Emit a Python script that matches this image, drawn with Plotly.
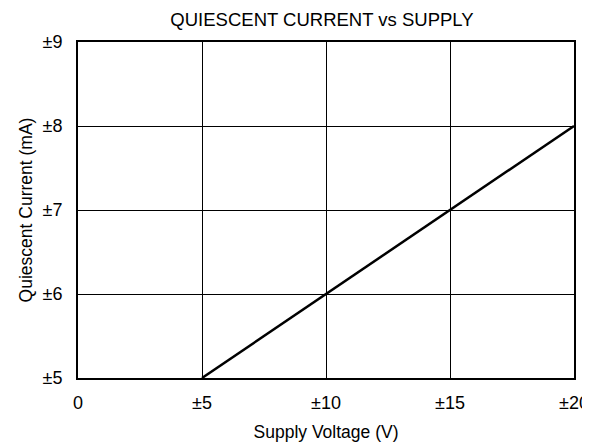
import plotly.graph_objects as go

supply_v = [5, 20]
quiescent_ma = [5, 8]
x_ticks = [0, 5, 10, 15, 20]
x_labels = ["0", "±5", "±10", "±15", "±20"]
y_ticks = [5, 6, 7, 8, 9]
y_labels = ["±5", "±6", "±7", "±8", "±9"]

fam = "Liberation Sans, Arial, sans-serif"
fig = go.Figure()
fig.add_trace(go.Scatter(x=supply_v, y=quiescent_ma, mode="lines",
                         line=dict(color="black", width=2.5), showlegend=False))

# page body adds an 8px offset; margins compensate for it
fig.update_layout(
    width=590, height=446,
    margin=dict(l=70, r=24, t=34, b=76),
    paper_bgcolor="white", plot_bgcolor="white",
    font=dict(family=fam, size=17, color="black"),
    title=dict(text="QUIESCENT CURRENT vs SUPPLY", x=314/590, xref="container",
               xanchor="center", y=1 - 12/446, yanchor="middle",
               font=dict(family=fam, size=18.5, color="black")),
    xaxis=dict(range=[0, 20], tickvals=x_ticks, ticktext=x_labels,
               tickfont=dict(family=fam, size=18, color="black"),
               showgrid=True, gridcolor="black", gridwidth=1,
               showline=True, linecolor="black", linewidth=2, mirror=True,
               zeroline=False, ticks="", automargin=False,
               title=dict(text="Supply Voltage (V)", standoff=14,
                          font=dict(family=fam, size=17.5, color="black"))),
    yaxis=dict(range=[5, 9], tickvals=y_ticks, ticktext=y_labels,
               tickfont=dict(family=fam, size=18, color="black"),
               showgrid=True, gridcolor="black", gridwidth=1,
               showline=True, linecolor="black", linewidth=2, mirror=True,
               zeroline=False, ticks="", automargin=False,
               title=dict(text="Quiescent Current (mA)", standoff=5,
                          font=dict(family=fam, size=17.5, color="black"))),
)
fig.update_xaxes(ticklabelstandoff=7)
fig.update_yaxes(ticklabelstandoff=10)
fig.write_html("out.html")
